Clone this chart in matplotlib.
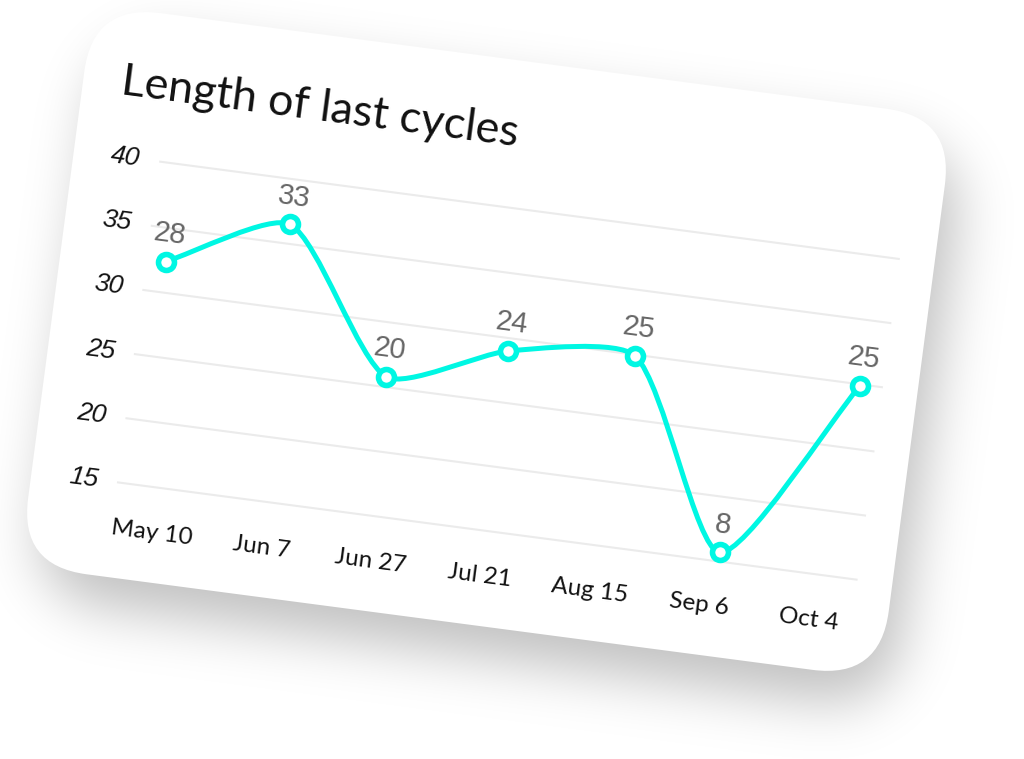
import numpy as np
import matplotlib
matplotlib.use("Agg")
import matplotlib.pyplot as plt
from matplotlib.transforms import Affine2D
from matplotlib.patches import FancyBboxPatch, PathPatch
from matplotlib.path import Path

# data
dates = ["May 10", "Jun 7", "Jun 27", "Jul 21", "Aug 15", "Sep 6", "Oct 4"]
cycle_labels = [28, 33, 20, 24, 25, 8, 25]
# where the points actually sit against the value axis (mockup: not the same as the labels)
point_y = [32.4, 36.5, 25.8, 29.0, 29.9, 15.7, 29.9]
point_x = [0, 1.01, 1.99, 2.99, 4.07, 5.0, 6.0]
y_ticks = [15, 20, 25, 30, 35, 40]
title = "Length of last cycles"

cyan = '#00f7e3'
W, H = 1024, 759

fig = plt.figure(figsize=(W / 100, H / 100), dpi=100, facecolor='white')
ax = fig.add_axes([0, 0, 1, 1])
ax.axis('off')

# the card is tilted, everything on it goes through this transform
angle = 7.5
cx, cy = 486.5, 341.5
card_w, card_h, rad = 868, 566, 68
rot = Affine2D().rotate_deg(angle).translate(cx, cy) + ax.transData

# chart units -> card pixels
u0, du = -328.6, 117.45
v15, k = 187.8, 12.94
to_local = Affine2D().scale(du, -k).translate(u0, v15 + 15 * k)
chart = to_local + rot
label_tr = to_local + Affine2D().translate(0, -28) + rot

# soft shadow under the card
yy, xx = np.mgrid[0:H, 0:W] + 0.5
ca, sa = np.cos(np.radians(angle)), np.sin(np.radians(angle))
dx, dy = xx - (cx + 12), yy - (cy + 32)
u = dx * ca + dy * sa
v = -dx * sa + dy * ca
qx = np.abs(u) - (card_w / 2 - rad)
qy = np.abs(v) - (card_h / 2 - rad)
d = np.hypot(np.maximum(qx, 0), np.maximum(qy, 0)) + np.minimum(np.maximum(qx, qy), 0) - rad
mask = np.clip(0.5 - d, 0, 1)
g = np.exp(-0.5 * (np.arange(-90, 91) / 28.0) ** 2)
g /= g.sum()
blur = np.apply_along_axis(np.convolve, 1, mask, g, mode='same')
blur = np.apply_along_axis(np.convolve, 0, blur, g, mode='same')
shadow = np.zeros((H, W, 4))
shadow[..., 3] = 0.25 * blur
ax.imshow(shadow, extent=(0, W, H, 0), zorder=1, interpolation='bilinear')

card = FancyBboxPatch((-card_w / 2, -card_h / 2), card_w, card_h,
                      boxstyle=f"round,pad=0,rounding_size={rad}",
                      transform=rot, facecolor='white', edgecolor='none', zorder=2)
ax.add_patch(card)

ax.text(-396, -197, title, transform=rot, rotation=-angle, rotation_mode='anchor',
        ha='left', va='baseline', fontsize=32.3, family='Lato', color='#111111', zorder=4)

# grid + y labels
for t in y_ticks:
    ax.plot([-0.165, 6.195], [t, t], transform=chart, color='#ebebeb', lw=1.5,
            solid_capstyle='butt', zorder=3)
    ax.text(-0.33, t, str(t), transform=chart, rotation=-angle, rotation_mode='anchor',
            ha='right', va='center', fontsize=19, style='italic',
            family='Liberation Sans', color='#111111', zorder=4)

# x labels (spaced a bit tighter than the points in the original)
tick_x = 0.183 + 0.94 * np.arange(len(dates))
for tx, lab in zip(tick_x, dates):
    ax.text(tx, 11.5, lab, transform=chart, rotation=-angle, rotation_mode='anchor',
            ha='center', va='center', fontsize=17.5, family='Lato', color='#111111', zorder=4)

# smooth line, chart.js style spline built as bezier path
pts = to_local.transform(np.column_stack([point_x, point_y]))
n = len(pts)
tension = 0.22
prev_cp, next_cp = [], []
for i in range(n):
    p0 = pts[max(i - 1, 0)]
    p1 = pts[i]
    p2 = pts[min(i + 1, n - 1)]
    d01 = np.hypot(*(p1 - p0))
    d12 = np.hypot(*(p2 - p1))
    s01 = d01 / (d01 + d12)
    s12 = d12 / (d01 + d12)
    prev_cp.append(p1 - tension * s01 * (p2 - p0))
    next_cp.append(p1 + tension * s12 * (p2 - p0))
verts = [pts[0]]
codes = [Path.MOVETO]
for i in range(n - 1):
    verts += [next_cp[i], prev_cp[i + 1], pts[i + 1]]
    codes += [Path.CURVE4] * 3
ax.add_patch(PathPatch(Path(verts, codes), transform=rot, fill=False,
                       edgecolor=cyan, lw=3.6, zorder=5, capstyle='round'))

ax.plot(point_x, point_y, transform=chart, ls='none', marker='o', ms=11.5,
        mfc='white', mec=cyan, mew=4, zorder=6)

for px, py, lab in zip(point_x, point_y, cycle_labels):
    ax.text(px, py, str(lab), transform=label_tr, rotation=-angle, rotation_mode='anchor',
            ha='center', va='center', fontsize=21, family='Liberation Sans',
            color='#666666', zorder=7)

ax.set_aspect('auto')
ax.set_xlim(0, W)
ax.set_ylim(H, 0)

fig.savefig('out.png', dpi=100, facecolor='white')
